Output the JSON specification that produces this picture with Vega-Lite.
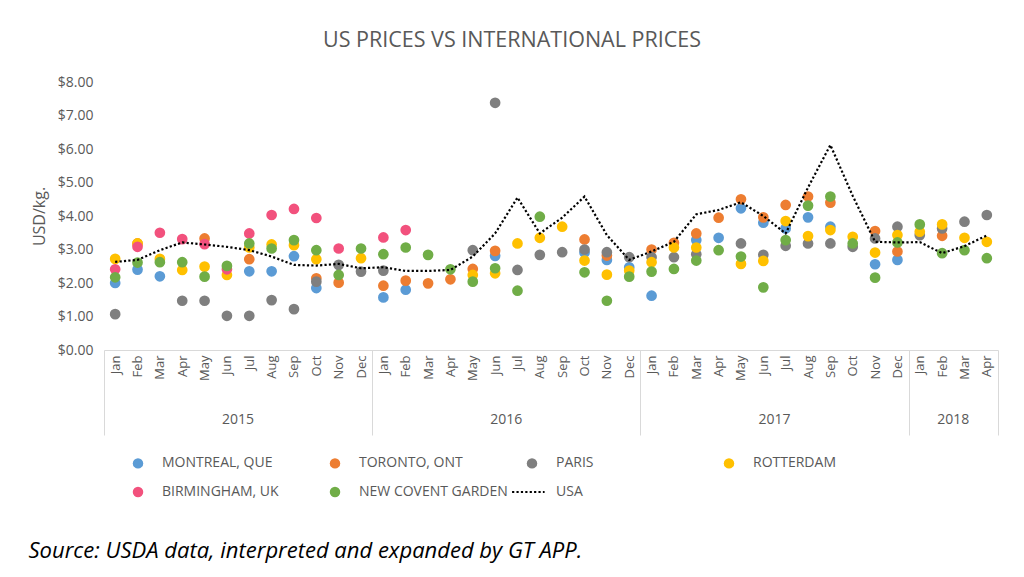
{
  "$schema": "https://vega.github.io/schema/vega-lite/v6.json",
  "width": 894,
  "height": 268,
  "autosize": {"type": "none"},
  "padding": {"left": 104, "top": 82, "right": 26, "bottom": 227},
  "background": "white",
  "config": {
    "font": "Open Sans",
    "view": {"stroke": null},
    "axisY": {"labelOverlap": false, "labelSeparation": 0},
    "axisLeft": {"labelOverlap": false},
    "axisQuantitative": {"labelOverlap": false}
  },
  "title": {"text": "US PRICES VS INTERNATIONAL PRICES", "fontSize": 21.5, "fontWeight": "normal", "color": "#595959", "anchor": "middle", "dx": -39, "offset": 7, "baseline": "alphabetic"},
  "datasets": {
    "prices": [
      {"market": "MONTREAL, QUE", "month": "2015-01", "price": 2.00},
      {"market": "MONTREAL, QUE", "month": "2015-02", "price": 2.40},
      {"market": "MONTREAL, QUE", "month": "2015-03", "price": 2.20},
      {"market": "MONTREAL, QUE", "month": "2015-07", "price": 2.35},
      {"market": "MONTREAL, QUE", "month": "2015-08", "price": 2.35},
      {"market": "MONTREAL, QUE", "month": "2015-09", "price": 2.80},
      {"market": "MONTREAL, QUE", "month": "2015-10", "price": 1.85},
      {"market": "MONTREAL, QUE", "month": "2016-01", "price": 1.57},
      {"market": "MONTREAL, QUE", "month": "2016-02", "price": 1.80},
      {"market": "MONTREAL, QUE", "month": "2016-06", "price": 2.81},
      {"market": "MONTREAL, QUE", "month": "2016-10", "price": 2.91},
      {"market": "MONTREAL, QUE", "month": "2016-11", "price": 2.69},
      {"market": "MONTREAL, QUE", "month": "2016-12", "price": 2.47},
      {"market": "MONTREAL, QUE", "month": "2017-01", "price": 1.62},
      {"market": "MONTREAL, QUE", "month": "2017-03", "price": 3.28},
      {"market": "MONTREAL, QUE", "month": "2017-04", "price": 3.35},
      {"market": "MONTREAL, QUE", "month": "2017-05", "price": 4.23},
      {"market": "MONTREAL, QUE", "month": "2017-06", "price": 3.80},
      {"market": "MONTREAL, QUE", "month": "2017-07", "price": 3.63},
      {"market": "MONTREAL, QUE", "month": "2017-08", "price": 3.96},
      {"market": "MONTREAL, QUE", "month": "2017-09", "price": 3.68},
      {"market": "MONTREAL, QUE", "month": "2017-11", "price": 2.56},
      {"market": "MONTREAL, QUE", "month": "2017-12", "price": 2.69},
      {"market": "TORONTO, ONT", "month": "2015-02", "price": 3.18},
      {"market": "TORONTO, ONT", "month": "2015-05", "price": 3.33},
      {"market": "TORONTO, ONT", "month": "2015-07", "price": 2.71},
      {"market": "TORONTO, ONT", "month": "2015-10", "price": 2.14},
      {"market": "TORONTO, ONT", "month": "2015-11", "price": 2.01},
      {"market": "TORONTO, ONT", "month": "2016-01", "price": 1.92},
      {"market": "TORONTO, ONT", "month": "2016-02", "price": 2.07},
      {"market": "TORONTO, ONT", "month": "2016-03", "price": 1.99},
      {"market": "TORONTO, ONT", "month": "2016-04", "price": 2.11},
      {"market": "TORONTO, ONT", "month": "2016-05", "price": 2.42},
      {"market": "TORONTO, ONT", "month": "2016-06", "price": 2.96},
      {"market": "TORONTO, ONT", "month": "2016-10", "price": 3.30},
      {"market": "TORONTO, ONT", "month": "2016-11", "price": 2.82},
      {"market": "TORONTO, ONT", "month": "2017-01", "price": 3.00},
      {"market": "TORONTO, ONT", "month": "2017-02", "price": 3.20},
      {"market": "TORONTO, ONT", "month": "2017-03", "price": 3.48},
      {"market": "TORONTO, ONT", "month": "2017-04", "price": 3.95},
      {"market": "TORONTO, ONT", "month": "2017-05", "price": 4.50},
      {"market": "TORONTO, ONT", "month": "2017-06", "price": 3.96},
      {"market": "TORONTO, ONT", "month": "2017-07", "price": 4.33},
      {"market": "TORONTO, ONT", "month": "2017-08", "price": 4.58},
      {"market": "TORONTO, ONT", "month": "2017-09", "price": 4.40},
      {"market": "TORONTO, ONT", "month": "2017-11", "price": 3.55},
      {"market": "TORONTO, ONT", "month": "2017-12", "price": 2.94},
      {"market": "TORONTO, ONT", "month": "2018-02", "price": 3.41},
      {"market": "PARIS", "month": "2015-01", "price": 1.07},
      {"market": "PARIS", "month": "2015-04", "price": 1.47},
      {"market": "PARIS", "month": "2015-05", "price": 1.47},
      {"market": "PARIS", "month": "2015-06", "price": 1.02},
      {"market": "PARIS", "month": "2015-07", "price": 1.02},
      {"market": "PARIS", "month": "2015-08", "price": 1.49},
      {"market": "PARIS", "month": "2015-09", "price": 1.22},
      {"market": "PARIS", "month": "2015-10", "price": 2.04},
      {"market": "PARIS", "month": "2015-11", "price": 2.54},
      {"market": "PARIS", "month": "2015-12", "price": 2.34},
      {"market": "PARIS", "month": "2016-01", "price": 2.37},
      {"market": "PARIS", "month": "2016-05", "price": 2.98},
      {"market": "PARIS", "month": "2016-06", "price": 7.38},
      {"market": "PARIS", "month": "2016-07", "price": 2.39},
      {"market": "PARIS", "month": "2016-08", "price": 2.84},
      {"market": "PARIS", "month": "2016-09", "price": 2.92},
      {"market": "PARIS", "month": "2016-10", "price": 3.00},
      {"market": "PARIS", "month": "2016-11", "price": 2.92},
      {"market": "PARIS", "month": "2016-12", "price": 2.77},
      {"market": "PARIS", "month": "2017-01", "price": 2.77},
      {"market": "PARIS", "month": "2017-02", "price": 2.77},
      {"market": "PARIS", "month": "2017-03", "price": 2.86},
      {"market": "PARIS", "month": "2017-05", "price": 3.18},
      {"market": "PARIS", "month": "2017-06", "price": 2.84},
      {"market": "PARIS", "month": "2017-07", "price": 3.11},
      {"market": "PARIS", "month": "2017-08", "price": 3.18},
      {"market": "PARIS", "month": "2017-09", "price": 3.18},
      {"market": "PARIS", "month": "2017-10", "price": 3.08},
      {"market": "PARIS", "month": "2017-11", "price": 3.33},
      {"market": "PARIS", "month": "2017-12", "price": 3.68},
      {"market": "PARIS", "month": "2018-01", "price": 3.43},
      {"market": "PARIS", "month": "2018-02", "price": 3.63},
      {"market": "PARIS", "month": "2018-03", "price": 3.83},
      {"market": "PARIS", "month": "2018-04", "price": 4.03},
      {"market": "ROTTERDAM", "month": "2015-01", "price": 2.72},
      {"market": "ROTTERDAM", "month": "2015-02", "price": 3.18},
      {"market": "ROTTERDAM", "month": "2015-03", "price": 2.72},
      {"market": "ROTTERDAM", "month": "2015-04", "price": 2.39},
      {"market": "ROTTERDAM", "month": "2015-05", "price": 2.49},
      {"market": "ROTTERDAM", "month": "2015-06", "price": 2.24},
      {"market": "ROTTERDAM", "month": "2015-07", "price": 3.06},
      {"market": "ROTTERDAM", "month": "2015-08", "price": 3.15},
      {"market": "ROTTERDAM", "month": "2015-09", "price": 3.13},
      {"market": "ROTTERDAM", "month": "2015-10", "price": 2.71},
      {"market": "ROTTERDAM", "month": "2015-12", "price": 2.74},
      {"market": "ROTTERDAM", "month": "2016-05", "price": 2.24},
      {"market": "ROTTERDAM", "month": "2016-06", "price": 2.29},
      {"market": "ROTTERDAM", "month": "2016-07", "price": 3.18},
      {"market": "ROTTERDAM", "month": "2016-08", "price": 3.35},
      {"market": "ROTTERDAM", "month": "2016-09", "price": 3.68},
      {"market": "ROTTERDAM", "month": "2016-10", "price": 2.67},
      {"market": "ROTTERDAM", "month": "2016-11", "price": 2.25},
      {"market": "ROTTERDAM", "month": "2016-12", "price": 2.37},
      {"market": "ROTTERDAM", "month": "2017-01", "price": 2.62},
      {"market": "ROTTERDAM", "month": "2017-02", "price": 3.06},
      {"market": "ROTTERDAM", "month": "2017-03", "price": 3.06},
      {"market": "ROTTERDAM", "month": "2017-05", "price": 2.57},
      {"market": "ROTTERDAM", "month": "2017-06", "price": 2.66},
      {"market": "ROTTERDAM", "month": "2017-07", "price": 3.85},
      {"market": "ROTTERDAM", "month": "2017-08", "price": 3.40},
      {"market": "ROTTERDAM", "month": "2017-09", "price": 3.58},
      {"market": "ROTTERDAM", "month": "2017-10", "price": 3.38},
      {"market": "ROTTERDAM", "month": "2017-11", "price": 2.91},
      {"market": "ROTTERDAM", "month": "2017-12", "price": 3.43},
      {"market": "ROTTERDAM", "month": "2018-01", "price": 3.53},
      {"market": "ROTTERDAM", "month": "2018-02", "price": 3.75},
      {"market": "ROTTERDAM", "month": "2018-03", "price": 3.35},
      {"market": "ROTTERDAM", "month": "2018-04", "price": 3.23},
      {"market": "BIRMINGHAM, UK", "month": "2015-01", "price": 2.41},
      {"market": "BIRMINGHAM, UK", "month": "2015-02", "price": 3.08},
      {"market": "BIRMINGHAM, UK", "month": "2015-03", "price": 3.50},
      {"market": "BIRMINGHAM, UK", "month": "2015-04", "price": 3.31},
      {"market": "BIRMINGHAM, UK", "month": "2015-05", "price": 3.16},
      {"market": "BIRMINGHAM, UK", "month": "2015-06", "price": 2.41},
      {"market": "BIRMINGHAM, UK", "month": "2015-07", "price": 3.48},
      {"market": "BIRMINGHAM, UK", "month": "2015-08", "price": 4.03},
      {"market": "BIRMINGHAM, UK", "month": "2015-09", "price": 4.21},
      {"market": "BIRMINGHAM, UK", "month": "2015-10", "price": 3.94},
      {"market": "BIRMINGHAM, UK", "month": "2015-11", "price": 3.03},
      {"market": "BIRMINGHAM, UK", "month": "2016-01", "price": 3.36},
      {"market": "BIRMINGHAM, UK", "month": "2016-02", "price": 3.58},
      {"market": "NEW COVENT GARDEN", "month": "2015-01", "price": 2.17},
      {"market": "NEW COVENT GARDEN", "month": "2015-02", "price": 2.61},
      {"market": "NEW COVENT GARDEN", "month": "2015-03", "price": 2.62},
      {"market": "NEW COVENT GARDEN", "month": "2015-04", "price": 2.62},
      {"market": "NEW COVENT GARDEN", "month": "2015-05", "price": 2.19},
      {"market": "NEW COVENT GARDEN", "month": "2015-06", "price": 2.51},
      {"market": "NEW COVENT GARDEN", "month": "2015-07", "price": 3.18},
      {"market": "NEW COVENT GARDEN", "month": "2015-08", "price": 3.03},
      {"market": "NEW COVENT GARDEN", "month": "2015-09", "price": 3.28},
      {"market": "NEW COVENT GARDEN", "month": "2015-10", "price": 2.98},
      {"market": "NEW COVENT GARDEN", "month": "2015-11", "price": 2.24},
      {"market": "NEW COVENT GARDEN", "month": "2015-12", "price": 3.03},
      {"market": "NEW COVENT GARDEN", "month": "2016-01", "price": 2.86},
      {"market": "NEW COVENT GARDEN", "month": "2016-02", "price": 3.06},
      {"market": "NEW COVENT GARDEN", "month": "2016-03", "price": 2.84},
      {"market": "NEW COVENT GARDEN", "month": "2016-04", "price": 2.41},
      {"market": "NEW COVENT GARDEN", "month": "2016-05", "price": 2.04},
      {"market": "NEW COVENT GARDEN", "month": "2016-06", "price": 2.44},
      {"market": "NEW COVENT GARDEN", "month": "2016-07", "price": 1.77},
      {"market": "NEW COVENT GARDEN", "month": "2016-08", "price": 3.98},
      {"market": "NEW COVENT GARDEN", "month": "2016-10", "price": 2.32},
      {"market": "NEW COVENT GARDEN", "month": "2016-11", "price": 1.47},
      {"market": "NEW COVENT GARDEN", "month": "2016-12", "price": 2.19},
      {"market": "NEW COVENT GARDEN", "month": "2017-01", "price": 2.34},
      {"market": "NEW COVENT GARDEN", "month": "2017-02", "price": 2.42},
      {"market": "NEW COVENT GARDEN", "month": "2017-03", "price": 2.67},
      {"market": "NEW COVENT GARDEN", "month": "2017-04", "price": 2.98},
      {"market": "NEW COVENT GARDEN", "month": "2017-05", "price": 2.79},
      {"market": "NEW COVENT GARDEN", "month": "2017-06", "price": 1.87},
      {"market": "NEW COVENT GARDEN", "month": "2017-07", "price": 3.28},
      {"market": "NEW COVENT GARDEN", "month": "2017-08", "price": 4.31},
      {"market": "NEW COVENT GARDEN", "month": "2017-09", "price": 4.58},
      {"market": "NEW COVENT GARDEN", "month": "2017-10", "price": 3.18},
      {"market": "NEW COVENT GARDEN", "month": "2017-11", "price": 2.16},
      {"market": "NEW COVENT GARDEN", "month": "2017-12", "price": 3.21},
      {"market": "NEW COVENT GARDEN", "month": "2018-01", "price": 3.75},
      {"market": "NEW COVENT GARDEN", "month": "2018-02", "price": 2.89},
      {"market": "NEW COVENT GARDEN", "month": "2018-03", "price": 2.98},
      {"market": "NEW COVENT GARDEN", "month": "2018-04", "price": 2.74}
    ],
    "usa": [
      {"market": "USA", "month": "2015-01", "price": 2.63},
      {"market": "USA", "month": "2015-02", "price": 2.69},
      {"market": "USA", "month": "2015-03", "price": 2.98},
      {"market": "USA", "month": "2015-04", "price": 3.21},
      {"market": "USA", "month": "2015-05", "price": 3.15},
      {"market": "USA", "month": "2015-06", "price": 3.08},
      {"market": "USA", "month": "2015-07", "price": 2.98},
      {"market": "USA", "month": "2015-08", "price": 2.79},
      {"market": "USA", "month": "2015-09", "price": 2.54},
      {"market": "USA", "month": "2015-10", "price": 2.52},
      {"market": "USA", "month": "2015-11", "price": 2.57},
      {"market": "USA", "month": "2015-12", "price": 2.44},
      {"market": "USA", "month": "2016-01", "price": 2.47},
      {"market": "USA", "month": "2016-02", "price": 2.36},
      {"market": "USA", "month": "2016-03", "price": 2.36},
      {"market": "USA", "month": "2016-04", "price": 2.39},
      {"market": "USA", "month": "2016-05", "price": 2.79},
      {"market": "USA", "month": "2016-06", "price": 3.48},
      {"market": "USA", "month": "2016-07", "price": 4.55},
      {"market": "USA", "month": "2016-08", "price": 3.48},
      {"market": "USA", "month": "2016-09", "price": 3.95},
      {"market": "USA", "month": "2016-10", "price": 4.58},
      {"market": "USA", "month": "2016-11", "price": 3.43},
      {"market": "USA", "month": "2016-12", "price": 2.69},
      {"market": "USA", "month": "2017-01", "price": 2.94},
      {"market": "USA", "month": "2017-02", "price": 3.23},
      {"market": "USA", "month": "2017-03", "price": 4.05},
      {"market": "USA", "month": "2017-04", "price": 4.18},
      {"market": "USA", "month": "2017-05", "price": 4.41},
      {"market": "USA", "month": "2017-06", "price": 4.00},
      {"market": "USA", "month": "2017-07", "price": 3.48},
      {"market": "USA", "month": "2017-08", "price": 4.85},
      {"market": "USA", "month": "2017-09", "price": 6.12},
      {"market": "USA", "month": "2017-10", "price": 4.60},
      {"market": "USA", "month": "2017-11", "price": 3.23},
      {"market": "USA", "month": "2017-12", "price": 3.21},
      {"market": "USA", "month": "2018-01", "price": 3.22},
      {"market": "USA", "month": "2018-02", "price": 2.89},
      {"market": "USA", "month": "2018-03", "price": 3.10},
      {"market": "USA", "month": "2018-04", "price": 3.42}
    ]
  },
  "layer": [
    {
      "data": {"name": "prices"},
      "mark": {"type": "point", "filled": true, "opacity": 1, "size": 115},
      "encoding": {
        "x": {
          "field": "month", "type": "nominal",
          "scale": {"type": "band", "paddingInner": 0, "paddingOuter": 0},
          "axis": {
            "orient": "bottom", "title": null, "labelAngle": -90, "labelAlign": "right", "labelBaseline": "middle",
            "labelExpr": "datum.value ? ['Jan','Feb','Mar','Apr','May','Jun','Jul','Aug','Sep','Oct','Nov','Dec'][toNumber(substring(datum.value + '', 5, 7)) - 1] : ''",
            "labelFontSize": 13, "labelColor": "#595959", "labelPadding": -80, "labelOverlap": false,
            "tickBand": "extent", "tickSize": 85, "tickColor": "#d9d9d9", "tickWidth": 1,
            "tickOpacity": {"condition": {"test": "datum.extra || datum.value === '2015-12' || datum.value === '2016-12' || datum.value === '2017-12' || datum.value === '2018-04'", "value": 1}, "value": 0},
            "domainColor": "#d9d9d9", "grid": false
          }
        },
        "y": {
          "field": "price", "type": "quantitative",
          "scale": {"domain": [0, 8], "nice": false},
          "axis": {
            "title": "USD/kg.", "titleFontSize": 16, "titleFontWeight": "normal", "titleColor": "#595959", "titlePadding": 10,
            "tickCount": 8, "format": "$.2f", "labelOverlap": false,
            "labelFontSize": 14, "labelColor": "#595959", "labelPadding": 11,
            "ticks": false, "domain": false, "grid": false
          }
        },
        "color": {
          "field": "market", "type": "nominal",
          "scale": {
            "domain": ["MONTREAL, QUE", "TORONTO, ONT", "PARIS", "ROTTERDAM", "BIRMINGHAM, UK", "NEW COVENT GARDEN", "USA"],
            "range": ["#5b9bd5", "#ed7d31", "#7f7f7f", "#ffc000", "#f2517d", "#70ad47", "#000000"]
          },
          "legend": {
            "orient": "none", "direction": "horizontal", "legendX": 27, "legendY": 374, "columns": 4, "gridAlign": "all",
            "columnPadding": 0, "rowPadding": 9, "title": null, "padding": 0,
            "symbolSize": 110, "symbolStrokeWidth": 2, "labelFontSize": 14, "labelColor": "#595959", "labelOffset": 17
          }
        },
        "shape": {
          "field": "market", "type": "nominal",
          "scale": {
            "domain": ["MONTREAL, QUE", "TORONTO, ONT", "PARIS", "ROTTERDAM", "BIRMINGHAM, UK", "NEW COVENT GARDEN", "USA"],
            "range": ["circle", "circle", "circle", "circle", "circle", "circle", "M-3.8,0H2.4"]
          },
          "legend": {
            "orient": "none", "direction": "horizontal", "legendX": 27, "legendY": 374, "columns": 4, "gridAlign": "all",
            "columnPadding": 0, "rowPadding": 9, "title": null, "padding": 0,
            "symbolSize": 110, "symbolStrokeWidth": 2, "labelFontSize": 14, "labelColor": "#595959", "labelOffset": 17
          }
        },
        "stroke": {
          "field": "market", "type": "nominal",
          "scale": {
            "domain": ["MONTREAL, QUE", "TORONTO, ONT", "PARIS", "ROTTERDAM", "BIRMINGHAM, UK", "NEW COVENT GARDEN", "USA"],
            "range": ["transparent", "transparent", "transparent", "transparent", "transparent", "transparent", "#000000"]
          },
          "legend": {
            "orient": "none", "direction": "horizontal", "legendX": 27, "legendY": 374, "columns": 4, "gridAlign": "all",
            "columnPadding": 0, "rowPadding": 9, "title": null, "padding": 0,
            "symbolSize": 110, "symbolStrokeWidth": 2, "labelFontSize": 14, "labelColor": "#595959", "labelOffset": 17
          }
        },
        "strokeDash": {
          "field": "market", "type": "nominal",
          "scale": {
            "domain": ["MONTREAL, QUE", "TORONTO, ONT", "PARIS", "ROTTERDAM", "BIRMINGHAM, UK", "NEW COVENT GARDEN", "USA"],
            "range": [[1, 0], [1, 0], [1, 0], [1, 0], [1, 0], [1, 0], [2.2, 2.2]]
          },
          "legend": {
            "orient": "none", "direction": "horizontal", "legendX": 27, "legendY": 374, "columns": 4, "gridAlign": "all",
            "columnPadding": 0, "rowPadding": 9, "title": null, "padding": 0,
            "symbolSize": 110, "symbolStrokeWidth": 2, "labelFontSize": 14, "labelColor": "#595959", "labelOffset": 17
          }
        }
      }
    },
    {
      "data": {"name": "usa"},
      "mark": {"type": "line", "strokeWidth": 2.2},
      "encoding": {
        "x": {
          "field": "month", "type": "nominal",
          "axis": {
            "orient": "bottom",
            "title": "Source: USDA data, interpreted and expanded by GT APP.",
            "titleFontStyle": "italic", "titleFontWeight": "normal", "titleFontSize": 22, "titleColor": "#000000",
            "titleAlign": "left", "titleAnchor": "start", "titleBaseline": "middle", "titleX": -76, "titleY": 200,
            "values": ["2015-06", "2016-06", "2017-06", "2018-02"],
            "labelExpr": "substring(datum.value + '', 0, 4)", "labelOffset": 11.2, "labelPadding": 62,
            "labelAngle": 0, "labelBaseline": "top", "labelAlign": "center",
            "labelFontSize": 14, "labelColor": "#595959",
            "ticks": false, "domain": false, "grid": false
          }
        },
        "y": {
          "field": "price", "type": "quantitative",
          "axis": {
            "title": "USD/kg.", "titleFontSize": 16, "titleFontWeight": "normal", "titleColor": "#595959", "titlePadding": 10,
            "tickCount": 8, "format": "$.2f", "labelOverlap": false,
            "labelFontSize": 14, "labelColor": "#595959", "labelPadding": 11,
            "ticks": false, "domain": false, "grid": false
          }
        },
        "stroke": {"field": "market", "type": "nominal", "legend": null},
        "strokeDash": {"field": "market", "type": "nominal", "legend": null}
      }
    }
  ],
  "resolve": {"axis": {"x": "independent"}}
}
